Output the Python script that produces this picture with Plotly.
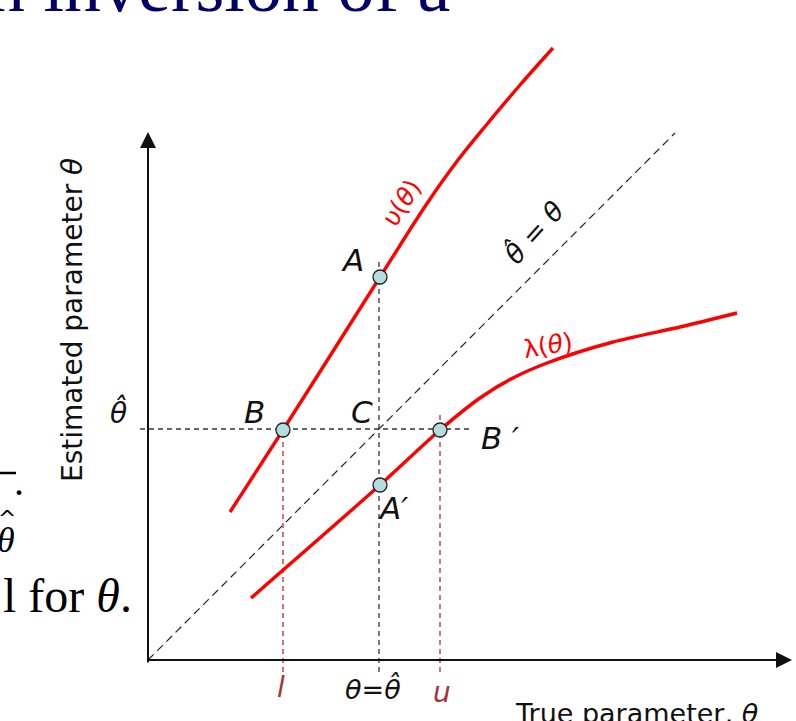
import plotly.graph_objects as go

# diagram coordinates: origin where the two axes cross, 1 unit ~ 100 px
U_X = [0.82, 1.35, 2.32, 2.80, 3.10, 3.40, 3.72, 4.05]
U_Y = [1.48, 2.30, 3.83, 4.58, 5.00, 5.37, 5.75, 6.12]

LAM_X = [1.03, 2.32, 2.92, 3.32, 3.63, 3.99, 4.65, 5.32, 5.89]
LAM_Y = [0.62, 1.75, 2.30, 2.62, 2.81, 2.97, 3.18, 3.33, 3.47]

THETA_HAT = 2.31
L_VAL = 1.35
U_VAL = 2.92
DIAG_END = 5.27

PT_NAMES = ["A", "B", "B′", "A′"]
PT_X = [2.32, 1.35, 2.92, 2.32]
PT_Y = [3.83, 2.30, 2.30, 1.75]

RED = "#FF0000"
DARKRED = "#A8302E"
LABEL_FONT = "DejaVu Sans"

fig = go.Figure()

# 45 degree reference line
fig.add_trace(go.Scatter(
    x=[0, DIAG_END], y=[0, DIAG_END], mode="lines",
    line=dict(color="#222", width=1.2, dash="8px,5px"), hoverinfo="skip",
))

# dashed guides through theta-hat
fig.add_trace(go.Scatter(
    x=[-0.08, 3.24], y=[THETA_HAT, THETA_HAT], mode="lines",
    line=dict(color="#333", width=1.3, dash="5px,4px"), hoverinfo="skip",
))
fig.add_trace(go.Scatter(
    x=[THETA_HAT, THETA_HAT], y=[-0.12, 3.98], mode="lines",
    line=dict(color="#333", width=1.3, dash="5px,4px"), hoverinfo="skip",
))
for xv, ytop in [(L_VAL, 2.40), (U_VAL, 2.48)]:
    fig.add_trace(go.Scatter(
        x=[xv, xv], y=[-0.12, ytop], mode="lines",
        line=dict(color=DARKRED, width=1.3, dash="5px,4px"), hoverinfo="skip",
    ))

# upper and lower belt curves
fig.add_trace(go.Scatter(
    x=U_X, y=U_Y, mode="lines",
    line=dict(color=RED, width=3.4, shape="spline", smoothing=1), hoverinfo="skip",
))
fig.add_trace(go.Scatter(
    x=LAM_X, y=LAM_Y, mode="lines",
    line=dict(color=RED, width=3.4, shape="spline", smoothing=0.8), hoverinfo="skip",
))

# intersection points
fig.add_trace(go.Scatter(
    x=PT_X, y=PT_Y, mode="markers",
    marker=dict(size=14, color="#B4DCDC", line=dict(color="#222", width=1.3)),
    hoverinfo="skip",
))

# axes with arrow heads
fig.add_annotation(x=0, y=5.28, ax=0, ay=-0.04, axref="x", ayref="y",
                   showarrow=True, arrowhead=2, arrowsize=1.6, arrowwidth=2,
                   arrowcolor="#111", text="")
fig.add_annotation(x=6.44, y=0, ax=-0.02, ay=0, axref="x", ayref="y",
                   showarrow=True, arrowhead=2, arrowsize=1.6, arrowwidth=2,
                   arrowcolor="#111", text="")


def label(x, y, text, size=30, color="#111", angle=0, **kw):
    fig.add_annotation(x=x, y=y, text=text, showarrow=False, textangle=angle,
                       font=dict(family=LABEL_FONT, size=size, color=color), **kw)


label(2.04, 4.00, "<i>A</i>", size=31)
label(1.06, 2.48, "<i>B</i>", size=31)
label(2.14, 2.48, "<i>C</i>", size=31)
label(3.52, 2.22, "<i>B ′</i>", size=31)
label(2.45, 1.52, "<i>A′</i>", size=31)
label(-0.30, 2.48, "<i>θ̂</i>", size=28)

label(1.33, -0.27, "<i>l</i>", size=28, color=DARKRED)
label(2.25, -0.28, "<i>θ=θ̂</i>", size=27)
label(2.94, -0.32, "<i>u</i>", size=28, color=DARKRED)

label(2.53, 4.57, "υ(<i>θ</i>)", size=25, color=RED, angle=-57)
label(4.00, 3.15, "λ(<i>θ</i>)", size=25, color=RED, angle=-10)
label(3.85, 4.28, "<i>θ̂</i> = <i>θ</i>", size=27, angle=-48)

label(-0.76, 3.40, "Estimated parameter <i>θ</i>", size=28, angle=-90)
label(3.65, -0.53, "True parameter, <i>θ</i>", size=27, xanchor="left")

# remnants of the surrounding slide (pixel overlay)
SERIF = "Liberation Serif"
fig.add_annotation(x=452, y=29, xref="x2", yref="y2", text="n inversion of a",
                   showarrow=False, xanchor="right", yanchor="bottom",
                   font=dict(family=SERIF, size=74, color="#000066"))
fig.add_annotation(x=134, y=624, xref="x2", yref="y2", text="l for <i>θ</i>.",
                   showarrow=False, xanchor="right", yanchor="bottom",
                   font=dict(family=SERIF, size=48, color="#000"))
fig.add_annotation(x=26, y=506, xref="x2", yref="y2", text=".",
                   showarrow=False, xanchor="right", yanchor="bottom",
                   font=dict(family=SERIF, size=40, color="#000"))
fig.add_annotation(x=6, y=540, xref="x2", yref="y2", text="<i>θ</i>",
                   showarrow=False,
                   font=dict(family=SERIF, size=36, color="#000"))
fig.add_annotation(x=7, y=518, xref="x2", yref="y2", text="^",
                   showarrow=False,
                   font=dict(family=LABEL_FONT, size=22, color="#000"))
fig.add_shape(type="line", xref="x2", yref="y2", x0=-2, x1=16, y0=473, y1=473,
              line=dict(color="#000", width=2.5))

fig.update_layout(
    width=796, height=721, autosize=False,
    margin=dict(l=0, r=0, t=0, b=0),
    paper_bgcolor="white", plot_bgcolor="white",
    showlegend=False,
    xaxis=dict(range=[-1.48, 6.48], visible=False, fixedrange=True),
    yaxis=dict(range=[-0.61, 6.60], visible=False, fixedrange=True),
    xaxis2=dict(range=[0, 796], visible=False, overlaying="x"),
    yaxis2=dict(range=[721, 0], visible=False, overlaying="y"),
)
fig.add_trace(go.Scatter(x=[0], y=[0], xaxis="x2", yaxis="y2", mode="markers",
                         marker=dict(opacity=0), hoverinfo="skip"))

fig.write_html("out.html", config={"displayModeBar": False},
               post_script="document.body.style.margin='0';")
